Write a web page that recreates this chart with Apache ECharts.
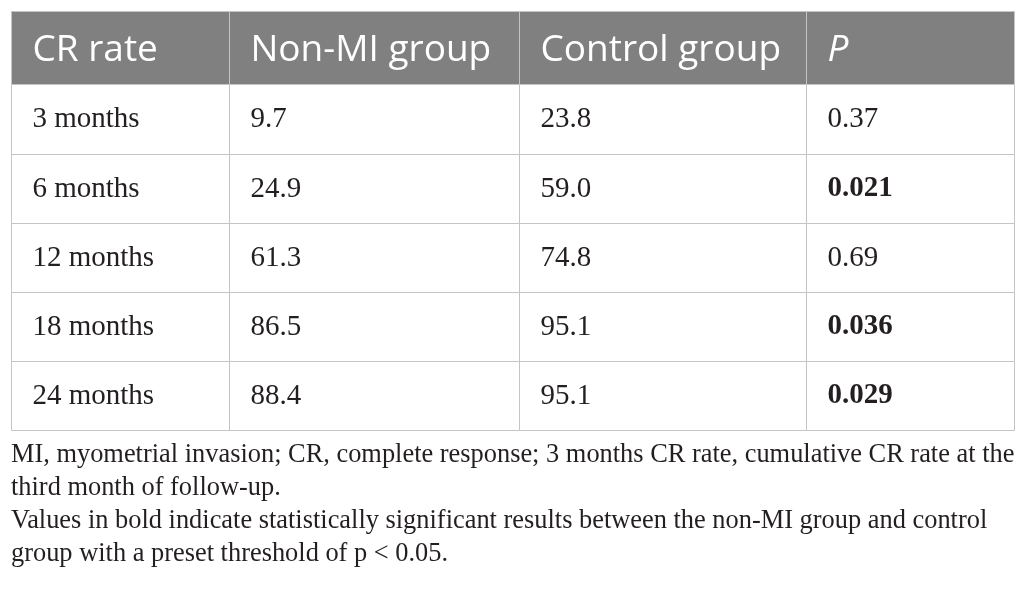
<!DOCTYPE html>
<html>
<head>
<meta charset="utf-8">
<script src="https://cdn.jsdelivr.net/npm/echarts@6/dist/echarts.min.js"></script>
<style>
  html, body { margin: 0; padding: 0; background: #fff; }
  #chart { width: 1026px; height: 590px; }
</style>
</head>
<body>
<div id="chart"></div>
<script>
  // table content
  const headers = ["CR rate", "Non-MI group", "Control group", "P"];
  const timepoints = ["3 months", "6 months", "12 months", "18 months", "24 months"];
  const nonMiRate = [9.7, 24.9, 61.3, 86.5, 88.4];
  const controlRate = [23.8, 59.0, 74.8, 95.1, 95.1];
  const pValues = ["0.37", "0.021", "0.69", "0.036", "0.029"];
  const threshold = 0.05;

  const footnote = [
    "MI, myometrial invasion; CR, complete response; 3 months CR rate, cumulative CR rate at the",
    "third month of follow-up.",
    "Values in bold indicate statistically significant results between the non-MI group and control",
    "group with a preset threshold of p < 0.05."
  ];

  // layout (axis units = px of the grid)
  const colWidths = [218, 290, 287, 208];
  const rowHeights = [73, 70, 69, 69, 69, 69];

  function edges(sizes) {
    const out = [0];
    sizes.forEach(s => out.push(out[out.length - 1] + s));
    return out;
  }
  const colEdges = edges(colWidths);
  const rowEdges = edges(rowHeights);

  // build cells: row 0 is the header
  const cells = [];
  headers.forEach((h, c) => {
    cells.push({ value: [c, 0], text: h, kind: "head", italic: h === "P" });
  });
  timepoints.forEach((t, i) => {
    const r = i + 1;
    cells.push({ value: [0, r], text: t, kind: "body" });
    cells.push({ value: [1, r], text: nonMiRate[i].toFixed(1), kind: "body" });
    cells.push({ value: [2, r], text: controlRate[i].toFixed(1), kind: "body" });
    cells.push({ value: [3, r], text: pValues[i], kind: "body", bold: Number(pValues[i]) < threshold });
  });

  const chart = echarts.init(document.getElementById("chart"));

  function renderCell(params, api) {
    const cell = cells[params.dataIndex];
    const c = api.value(0);
    const r = api.value(1);
    const p0 = api.coord([colEdges[c], rowEdges[r]]);
    const p1 = api.coord([colEdges[c + 1], rowEdges[r + 1]]);
    const x0 = Math.round(p0[0]) + 0.5;
    const y0 = Math.round(p0[1]) + 0.5;
    const x1 = Math.round(p1[0]) + 0.5;
    const y1 = Math.round(p1[1]) + 0.5;
    const isHead = cell.kind === "head";
    return {
      type: "group",
      children: [
        {
          type: "rect",
          shape: { x: x0, y: y0, width: x1 - x0, height: y1 - y0 },
          style: { fill: isHead ? "#808080" : "#ffffff", stroke: "#c4c4c4", lineWidth: 1 }
        },
        {
          type: "text",
          style: {
            text: cell.text,
            x: x0 + 21,
            y: (y0 + y1) / 2 + (isHead ? 2 : 0),
            align: "left",
            verticalAlign: "middle",
            fill: isHead ? "#ffffff" : "#231f20",
            fontFamily: isHead ? "Open Sans" : "Liberation Serif",
            fontSize: isHead ? 37 : 29,
            fontStyle: cell.italic ? "italic" : "normal",
            fontWeight: cell.bold ? "bold" : "normal"
          }
        }
      ]
    };
  }

  chart.setOption({
    animation: false,
    backgroundColor: "#ffffff",
    title: {
      text: footnote.join("\n"),
      left: 6,
      top: 434,
      textStyle: {
        fontFamily: "Liberation Serif",
        fontSize: 26.4,
        fontWeight: "normal",
        lineHeight: 33,
        color: "#231f20"
      }
    },
    grid: { left: 11, top: 11, width: colEdges[colEdges.length - 1], height: rowEdges[rowEdges.length - 1] },
    xAxis: { type: "value", min: 0, max: colEdges[colEdges.length - 1], show: false },
    yAxis: { type: "value", min: 0, max: rowEdges[rowEdges.length - 1], inverse: true, show: false },
    series: [
      {
        type: "custom",
        renderItem: renderCell,
        encode: { x: 0, y: 1 },
        data: cells.map(d => d.value),
        silent: true
      }
    ]
  });
</script>
</body>
</html>
